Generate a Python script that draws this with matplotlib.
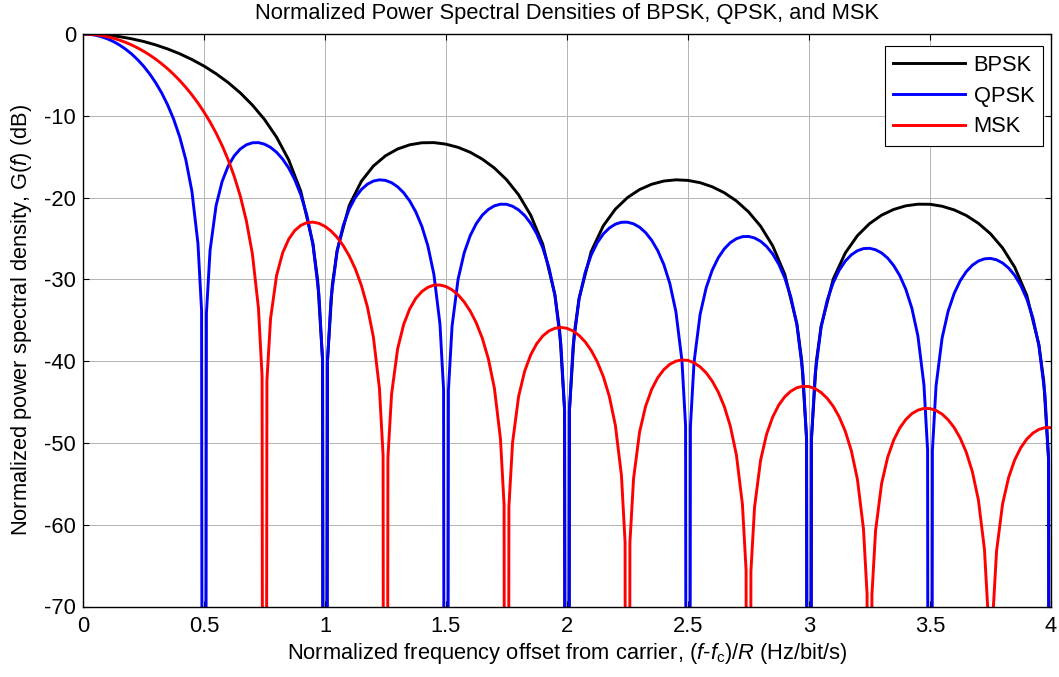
"""
Normalized PSD comparison of BPSK, QPSK and MSK (dB vs. normalized offset)
"""
import matplotlib
matplotlib.use("Agg")
import matplotlib.pyplot as plt

plt.rcParams["font.family"] = "Liberation Sans"
plt.rcParams["mathtext.fontset"] = "custom"
plt.rcParams["mathtext.rm"] = "Liberation Sans"
plt.rcParams["mathtext.it"] = "Liberation Sans:italic"
plt.rcParams["axes.unicode_minus"] = False

FS = 15.75

# nulls are stored as -300 dB (far below the axis floor, clipped by the axes)
NULL_DB = -300

# BPSK, one row per lobe
bpsk_f = [
    0.00, 0.05, 0.10, 0.15, 0.20, 0.25, 0.30, 0.35, 0.40, 0.45,
    0.50, 0.55, 0.60, 0.65, 0.70, 0.75, 0.80, 0.85, 0.90, 0.95, 0.97, 0.99,
    1.00, 1.01, 1.03, 1.05, 1.10, 1.15, 1.20, 1.25, 1.30, 1.35, 1.40, 1.45,
    1.50, 1.55, 1.60, 1.65, 1.70, 1.75, 1.80, 1.85, 1.90, 1.95, 1.97, 1.99,
    2.00, 2.01, 2.03, 2.05, 2.10, 2.15, 2.20, 2.25, 2.30, 2.35, 2.40, 2.45,
    2.50, 2.55, 2.60, 2.65, 2.70, 2.75, 2.80, 2.85, 2.90, 2.95, 2.97, 2.99,
    3.00, 3.01, 3.03, 3.05, 3.10, 3.15, 3.20, 3.25, 3.30, 3.35, 3.40, 3.45,
    3.50, 3.55, 3.60, 3.65, 3.70, 3.75, 3.80, 3.85, 3.90, 3.95, 3.97, 3.99,
    4.00,
]
bpsk_db = [
    0.00, -0.04, -0.14, -0.32, -0.58, -0.91, -1.33, -1.83, -2.42, -3.12,
    -3.92, -4.86, -5.94, -7.20, -8.69, -10.45, -12.62, -15.39, -19.23, -25.61, -30.21, -39.91,
    NULL_DB, -40.09, -30.73, -26.48, -20.97, -18.02, -16.14, -14.89, -14.06, -13.55, -13.30, -13.28,
    -13.47, -13.86, -14.46, -15.30, -16.39, -17.81, -19.66, -22.15, -25.72, -31.86, -36.36, -45.98,
    NULL_DB, -46.07, -36.62, -32.29, -26.59, -23.45, -21.41, -20.00, -19.02, -18.37, -17.98, -17.83,
    -17.90, -18.18, -18.68, -19.41, -20.41, -21.74, -23.50, -25.90, -29.39, -35.45, -39.93, -49.51,
    NULL_DB, -49.57, -40.10, -35.74, -29.97, -26.77, -24.66, -23.19, -22.15, -21.45, -21.01, -20.81,
    -20.82, -21.06, -21.51, -22.19, -23.15, -24.43, -26.16, -28.51, -31.96, -37.99, -42.45, -52.02,
    NULL_DB,
]

# QPSK, one row per half-unit lobe
qpsk_f = [
    0.000, 0.025, 0.050, 0.075, 0.100, 0.125, 0.150, 0.175, 0.200, 0.225, 0.250,
    0.275, 0.300, 0.325, 0.350, 0.375, 0.400, 0.425, 0.450, 0.475, 0.490,
    0.500, 0.510, 0.525, 0.550, 0.575, 0.600, 0.625, 0.650, 0.675, 0.700, 0.725,
    0.750, 0.775, 0.800, 0.825, 0.850, 0.875, 0.900, 0.925, 0.950, 0.975, 0.990,
    1.000, 1.010, 1.025, 1.050, 1.075, 1.100, 1.125, 1.150, 1.175, 1.200, 1.225,
    1.250, 1.275, 1.300, 1.325, 1.350, 1.375, 1.400, 1.425, 1.450, 1.475, 1.490,
    1.500, 1.510, 1.525, 1.550, 1.575, 1.600, 1.625, 1.650, 1.675, 1.700, 1.725,
    1.750, 1.775, 1.800, 1.825, 1.850, 1.875, 1.900, 1.925, 1.950, 1.975, 1.990,
    2.000, 2.010, 2.025, 2.050, 2.075, 2.100, 2.125, 2.150, 2.175, 2.200, 2.225,
    2.250, 2.275, 2.300, 2.325, 2.350, 2.375, 2.400, 2.425, 2.450, 2.475, 2.490,
    2.500, 2.510, 2.525, 2.550, 2.575, 2.600, 2.625, 2.650, 2.675, 2.700, 2.725,
    2.750, 2.775, 2.800, 2.825, 2.850, 2.875, 2.900, 2.925, 2.950, 2.975, 2.990,
    3.000, 3.010, 3.025, 3.050, 3.075, 3.100, 3.125, 3.150, 3.175, 3.200, 3.225,
    3.250, 3.275, 3.300, 3.325, 3.350, 3.375, 3.400, 3.425, 3.450, 3.475, 3.490,
    3.500, 3.510, 3.525, 3.550, 3.575, 3.600, 3.625, 3.650, 3.675, 3.700, 3.725,
    3.750, 3.775, 3.800, 3.825, 3.850, 3.875, 3.900, 3.925, 3.950, 3.975, 3.990,
    4.000,
]
qpsk_db = [
    0.00, -0.04, -0.14, -0.32, -0.58, -0.91, -1.33, -1.83, -2.42, -3.12, -3.92,
    -4.86, -5.94, -7.20, -8.69, -10.45, -12.62, -15.39, -19.23, -25.61, -33.81,
    NULL_DB, -34.16, -26.48, -20.97, -18.02, -16.14, -14.89, -14.06, -13.55, -13.30, -13.28,
    -13.47, -13.86, -14.46, -15.30, -16.39, -17.81, -19.66, -22.15, -25.72, -31.86, -39.92,
    NULL_DB, -40.09, -32.29, -26.59, -23.45, -21.41, -20.00, -19.02, -18.37, -17.98, -17.83,
    -17.90, -18.18, -18.68, -19.41, -20.41, -21.74, -23.50, -25.90, -29.39, -35.45, -43.47,
    NULL_DB, -43.59, -35.74, -29.97, -26.77, -24.66, -23.19, -22.15, -21.45, -21.01, -20.81,
    -20.82, -21.06, -21.51, -22.19, -23.15, -24.43, -26.16, -28.51, -31.96, -37.99, -45.98,
    NULL_DB, -46.07, -38.21, -32.40, -29.16, -27.02, -25.52, -24.45, -23.72, -23.25, -23.02,
    -23.01, -23.21, -23.63, -24.29, -25.23, -26.49, -28.18, -30.52, -33.95, -39.95, -47.93,
    NULL_DB, -48.00, -40.12, -34.29, -31.04, -28.88, -27.36, -26.27, -25.51, -25.03, -24.78,
    -24.75, -24.94, -25.34, -25.99, -26.90, -28.15, -29.83, -32.15, -35.56, -41.55, -49.52,
    NULL_DB, -49.58, -41.69, -35.85, -32.58, -30.41, -28.87, -27.77, -27.00, -26.50, -26.24,
    -26.20, -26.38, -26.77, -27.40, -28.31, -29.54, -31.21, -33.52, -36.92, -42.90, -50.86,
    NULL_DB, -50.91, -43.02, -37.17, -33.89, -31.71, -30.16, -29.05, -28.27, -27.76, -27.49,
    -27.44, -27.61, -28.00, -28.62, -29.51, -30.74, -32.40, -34.70, -38.10, -44.06, -52.03,
    NULL_DB,
]

# MSK, main lobe then one row per sidelobe
msk_f = [
    0.000, 0.025, 0.050, 0.075, 0.100, 0.125, 0.150, 0.175, 0.200, 0.225, 0.250,
    0.275, 0.300, 0.325, 0.350, 0.375, 0.400, 0.425, 0.450, 0.475, 0.500,
    0.525, 0.550, 0.575, 0.600, 0.625, 0.650, 0.675, 0.700, 0.725, 0.740,
    0.750, 0.760, 0.775, 0.800, 0.825, 0.850, 0.875, 0.900, 0.925, 0.950, 0.975,
    1.000, 1.025, 1.050, 1.075, 1.100, 1.125, 1.150, 1.175, 1.200, 1.225, 1.240,
    1.250, 1.260, 1.275, 1.300, 1.325, 1.350, 1.375, 1.400, 1.425, 1.450, 1.475,
    1.500, 1.525, 1.550, 1.575, 1.600, 1.625, 1.650, 1.675, 1.700, 1.725, 1.740,
    1.750, 1.760, 1.775, 1.800, 1.825, 1.850, 1.875, 1.900, 1.925, 1.950, 1.975,
    2.000, 2.025, 2.050, 2.075, 2.100, 2.125, 2.150, 2.175, 2.200, 2.225, 2.240,
    2.250, 2.260, 2.275, 2.300, 2.325, 2.350, 2.375, 2.400, 2.425, 2.450, 2.475,
    2.500, 2.525, 2.550, 2.575, 2.600, 2.625, 2.650, 2.675, 2.700, 2.725, 2.740,
    2.750, 2.760, 2.775, 2.800, 2.825, 2.850, 2.875, 2.900, 2.925, 2.950, 2.975,
    3.000, 3.025, 3.050, 3.075, 3.100, 3.125, 3.150, 3.175, 3.200, 3.225, 3.240,
    3.250, 3.260, 3.275, 3.300, 3.325, 3.350, 3.375, 3.400, 3.425, 3.450, 3.475,
    3.500, 3.525, 3.550, 3.575, 3.600, 3.625, 3.650, 3.675, 3.700, 3.725, 3.740,
    3.750, 3.760, 3.775, 3.800, 3.825, 3.850, 3.875, 3.900, 3.925, 3.950, 3.975,
    4.000,
]
msk_db = [
    0.00, -0.02, -0.08, -0.18, -0.33, -0.51, -0.74, -1.01, -1.33, -1.69, -2.10,
    -2.56, -3.07, -3.64, -4.26, -4.95, -5.70, -6.53, -7.44, -8.44, -9.54,
    -10.76, -12.12, -13.65, -15.39, -17.41, -19.82, -22.83, -26.90, -33.51, -41.84,
    NULL_DB, -42.36, -34.81, -29.51, -26.76, -25.09, -24.03, -23.40, -23.07, -23.00, -23.16,
    -23.52, -24.09, -24.86, -25.86, -27.12, -28.70, -30.71, -33.34, -37.06, -43.35, -51.50,
    NULL_DB, -51.79, -44.08, -38.51, -35.52, -33.61, -32.33, -31.49, -30.97, -30.71, -30.69,
    -30.88, -31.28, -31.90, -32.75, -33.87, -35.32, -37.20, -39.71, -43.31, -49.48, -57.57,
    NULL_DB, -57.77, -49.99, -44.32, -41.23, -39.23, -37.86, -36.92, -36.31, -35.98, -35.87,
    -35.99, -36.31, -36.86, -37.64, -38.69, -40.07, -41.88, -44.32, -47.87, -53.98, -62.13,
    NULL_DB, -62.18, -54.37, -48.65, -45.50, -43.44, -42.02, -41.04, -40.38, -40.00, -39.85,
    -39.91, -40.20, -40.70, -41.43, -42.44, -43.78, -45.55, -47.96, -51.46, -57.54, -65.56,
    NULL_DB, -65.69, -57.86, -52.10, -48.91, -46.83, -45.37, -44.35, -43.67, -43.25, -43.07,
    -43.11, -43.36, -43.83, -44.54, -45.52, -46.83, -48.58, -50.96, -54.44, -60.48, -68.49,
    NULL_DB, -68.60, -60.75, -54.97, -51.76, -49.65, -48.18, -47.14, -46.42, -45.99, -45.78,
    -45.80, -46.03, -46.48, -47.17, -48.13, -49.42, -51.15, -53.51, -56.97, -63.00, -71.00,
    NULL_DB, -71.09, -63.23, -57.44, -54.21, -52.08, -50.59, -49.53, -48.80, -48.35, -48.13,
    -48.13,
]

x_ticks = [0, 0.5, 1, 1.5, 2, 2.5, 3, 3.5, 4]
x_tick_labels = ["0", "0.5", "1", "1.5", "2", "2.5", "3", "3.5", "4"]
y_ticks = [-70, -60, -50, -40, -30, -20, -10, 0]

W, H = 1059, 677
fig = plt.figure(figsize=(W / 100, H / 100), dpi=100)
ax = fig.add_axes([83 / W, 1 - 606.5 / H, (1051 - 83) / W, (606.5 - 34) / H])

ax.plot(bpsk_f, bpsk_db, color="black", lw=2.1, label="BPSK")
ax.plot(qpsk_f, qpsk_db, color="#0000ff", lw=2.1, label="QPSK")
ax.plot(msk_f, msk_db, color="#ff0000", lw=2.1, label="MSK")

ax.set_xlim(0, 4)
ax.set_ylim(-70, 0)
ax.set_xticks(x_ticks)
ax.set_xticklabels(x_tick_labels)
ax.set_yticks(y_ticks)
ax.set_yticklabels([str(v) for v in y_ticks])

ax.grid(True, color="#b4b4b4", lw=0.7)
ax.set_axisbelow(True)
ax.tick_params(direction="in", top=True, right=True, length=4, width=0.8,
               labelsize=FS)
ax.tick_params(axis="x", pad=7)
ax.tick_params(axis="y", pad=5)
for sp in ax.spines.values():
    sp.set_linewidth(1.0)
    sp.set_color("black")

ax.set_title("Normalized Power Spectral Densities of BPSK, QPSK, and MSK",
             fontsize=FS, pad=10.5)
ax.set_xlabel(r"Normalized frequency offset from carrier, ($\mathit{f}$-$\mathit{f}_{\rm c}$)/$\mathit{R}$ (Hz/bit/s)",
              fontsize=FS, labelpad=3)
ax.set_ylabel(r"Normalized power spectral density, G($\mathit{f}$) (dB)",
              fontsize=FS, labelpad=7)

leg = ax.legend(loc="upper right", bbox_to_anchor=(0.9917, 0.979),
                borderaxespad=0, fancybox=False, edgecolor="black",
                framealpha=1, fontsize=FS, handlelength=3.3,
                handletextpad=0.37, labelspacing=0.45, borderpad=0.4)
leg.get_frame().set_linewidth(0.8)

fig.savefig("out.png", dpi=100)
plt.close(fig)
